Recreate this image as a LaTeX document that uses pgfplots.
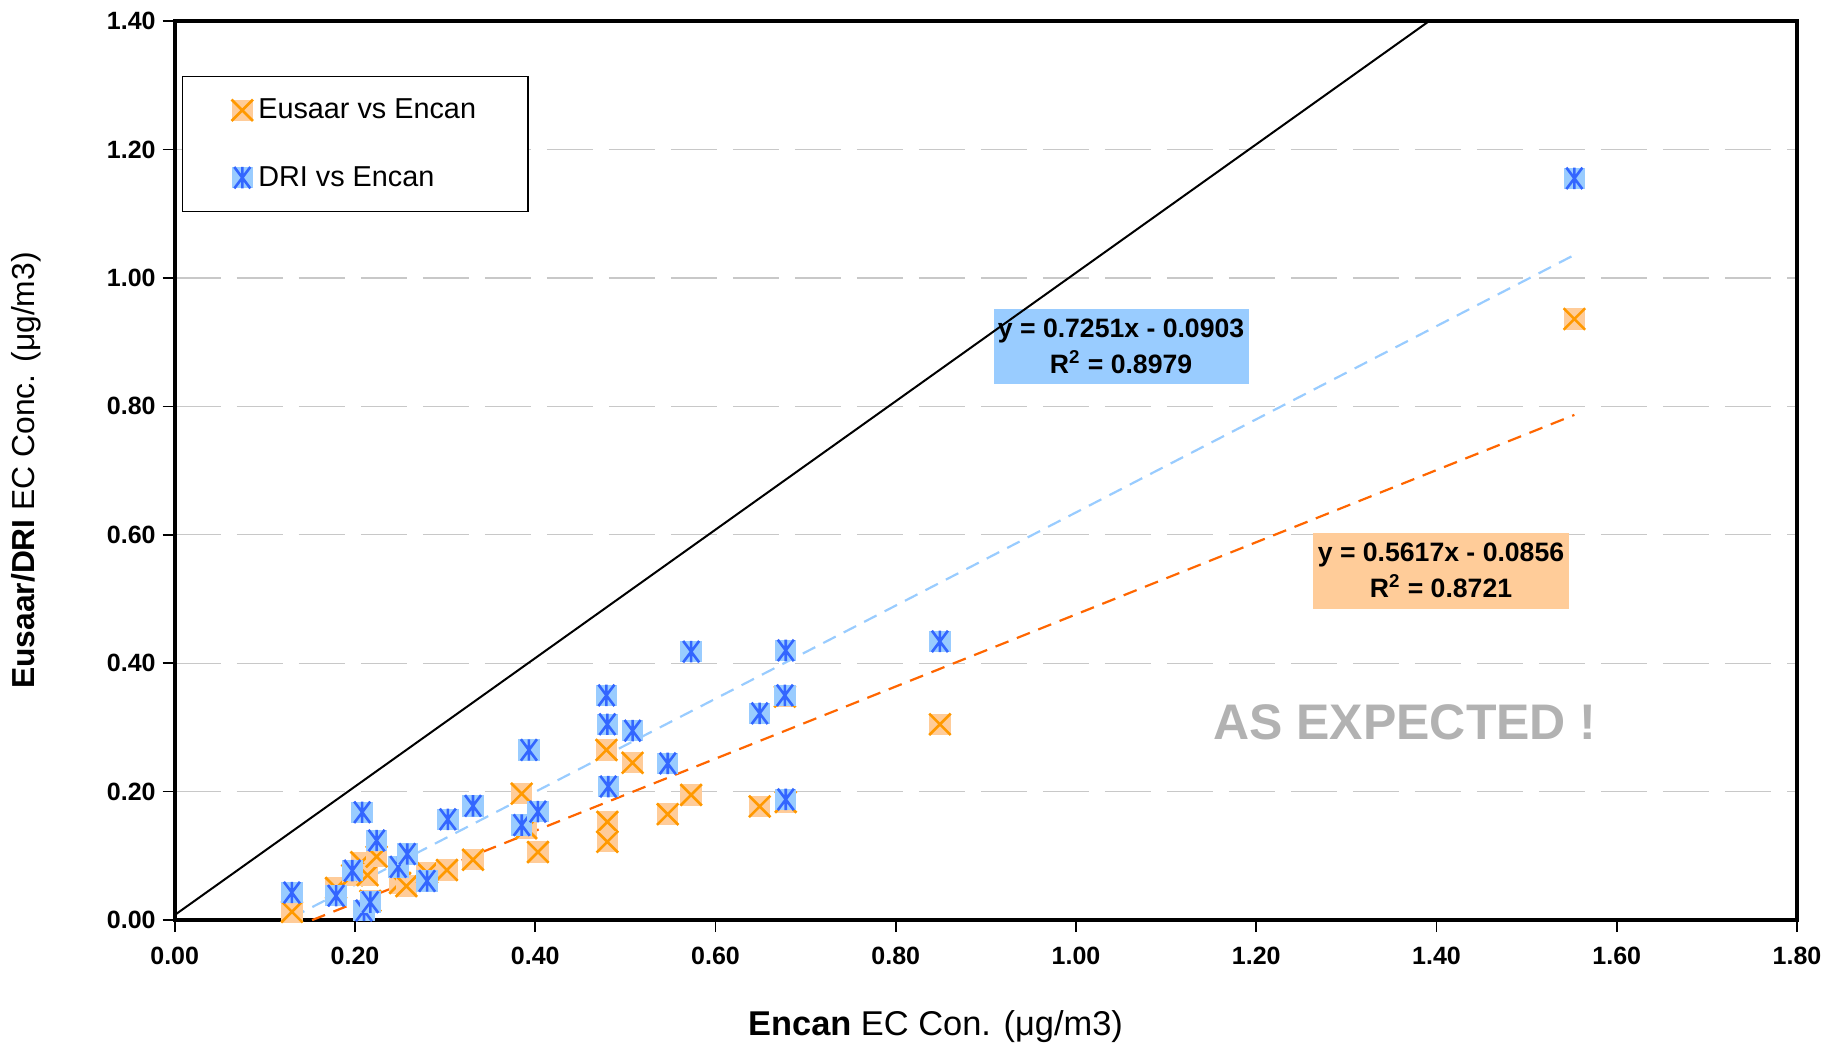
\documentclass[border=0pt]{standalone}
\usepackage{fontspec}
\setmainfont{Liberation Sans}
\usepackage{pgfplots}
\pgfplotsset{compat=1.18}
\definecolor{eufill}{HTML}{FFCC99}
\definecolor{eustroke}{HTML}{FF9900}
\definecolor{drifill}{HTML}{99CCFF}
\definecolor{dristroke}{HTML}{3366FF}
\definecolor{eutrend}{HTML}{FF6600}
\definecolor{dritrend}{HTML}{99CCFF}
\definecolor{gridgray}{HTML}{C8C8C8}
\definecolor{asgray}{HTML}{B2B2B2}
\pgfdeclareplotmark{eusaar}{%
  \pgfpathrectangle{\pgfqpoint{-\pgfplotmarksize}{-\pgfplotmarksize}}{\pgfqpoint{2\pgfplotmarksize}{2\pgfplotmarksize}}%
  \pgfsetfillcolor{eufill}\pgfusepath{fill}%
  \pgfsetstrokecolor{eustroke}\pgfsetlinewidth{1.3pt}%
  \pgfpathmoveto{\pgfqpoint{-\pgfplotmarksize}{-\pgfplotmarksize}}\pgfpathlineto{\pgfqpoint{\pgfplotmarksize}{\pgfplotmarksize}}%
  \pgfpathmoveto{\pgfqpoint{-\pgfplotmarksize}{\pgfplotmarksize}}\pgfpathlineto{\pgfqpoint{\pgfplotmarksize}{-\pgfplotmarksize}}%
  \pgfusepath{stroke}%
}
\pgfdeclareplotmark{dri}{%
  \pgfpathrectangle{\pgfqpoint{-\pgfplotmarksize}{-\pgfplotmarksize}}{\pgfqpoint{2\pgfplotmarksize}{2\pgfplotmarksize}}%
  \pgfsetfillcolor{drifill}\pgfusepath{fill}%
  \pgfsetstrokecolor{dristroke}\pgfsetlinewidth{1.3pt}%
  \pgfpathmoveto{\pgfqpoint{-0.75\pgfplotmarksize}{-\pgfplotmarksize}}\pgfpathlineto{\pgfqpoint{0.75\pgfplotmarksize}{\pgfplotmarksize}}%
  \pgfpathmoveto{\pgfqpoint{-0.75\pgfplotmarksize}{\pgfplotmarksize}}\pgfpathlineto{\pgfqpoint{0.75\pgfplotmarksize}{-\pgfplotmarksize}}%
  \pgfpathmoveto{\pgfqpoint{0pt}{-\pgfplotmarksize}}\pgfpathlineto{\pgfqpoint{0pt}{\pgfplotmarksize}}%
  \pgfusepath{stroke}%
}
\begin{document}
\begin{tikzpicture}
\path[use as bounding box] (-87.35pt,-61.5pt) rectangle (825.5pt,460pt);
\begin{axis}[
  at={(0,0)}, anchor=south west,
  scale only axis, width=811pt, height=449.5pt,
  xmin=0, xmax=1.8, ymin=0, ymax=1.4,
  xtick={0,0.2,0.4,0.6,0.8,1.0,1.2,1.4,1.6,1.8},
  ytick={0,0.2,0.4,0.6,0.8,1.0,1.2,1.4},
  axis line style={line width=2pt, black},
  tick align=outside, major tick length=6pt,
  tick style={black, line width=0.8pt},
  xtick pos=bottom, ytick pos=left,
  ymajorgrids,
  major grid style={gridgray, line width=0.7pt, dash pattern=on 23pt off 8pt},
  /pgf/number format/fixed,
  /pgf/number format/fixed zerofill,
  /pgf/number format/precision=2,
  /pgf/number format/assume math mode=true,
  tick label style={font=\fontsize{12.5}{14}\selectfont\bfseries},
  xticklabel style={yshift=-4pt},
  xlabel={\textbf{Encan} EC Con. (μg/m3)},
  ylabel={\textbf{Eusaar/DRI} EC Conc. (μg/m3)},
  xlabel style={font=\fontsize{17.2}{20}\selectfont, at={(axis description cs:0.469,-0.118)}, anchor=center},
  ylabel style={font=\fontsize{15.9}{19}\selectfont, at={(axis description cs:-0.0912,0.5)}, anchor=center},
  legend style={at={(axis description cs:0.0043,0.939)}, anchor=north west,
    draw=black, line width=0.6pt, fill=white,
    font=\fontsize{14.4}{16}\selectfont,
    inner xsep=24pt, inner ysep=9.2pt, row sep=18.3pt},
  legend cell align=left,
  legend image code/.code={\draw[#1] plot coordinates {(0pt,0pt)};},
  mark size=5.35pt,
]
\node[fill=drifill, inner sep=0pt, minimum width=127.5pt, minimum height=37.8pt, align=center,
  font=\fontsize{13.3}{18}\selectfont\bfseries] at (axis cs:1.050,0.893)
  {y = 0.7251x - 0.0903\\R\textsuperscript{2} = 0.8979};
\node[fill=eufill, inner sep=0pt, minimum width=127.5pt, minimum height=37.8pt, align=center,
  font=\fontsize{13.3}{18}\selectfont\bfseries] at (axis cs:1.405,0.544)
  {y = 0.5617x - 0.0856\\R\textsuperscript{2} = 0.8721};
\node[text=asgray, font=\fontsize{25}{30}\selectfont\bfseries] at (axis cs:1.365,0.308) {AS EXPECTED !};

\addplot[only marks, mark=eusaar] coordinates {
(0.13,0.013) (0.179,0.05) (0.197,0.07) (0.207,0.09) (0.214,0.07) (0.217,0.03)
(0.224,0.099) (0.25,0.058) (0.257,0.053) (0.28,0.074) (0.302,0.078) (0.331,0.094)
(0.385,0.197) (0.39,0.143) (0.403,0.106) (0.479,0.265) (0.48,0.153) (0.48,0.122)
(0.508,0.245) (0.547,0.165) (0.573,0.195) (0.649,0.177) (0.677,0.348) (0.678,0.184)
(0.849,0.305) (1.553,0.936)
};
\addlegendentry{Eusaar vs Encan}
\addplot[only marks, mark=dri] coordinates {
(0.13,0.043) (0.179,0.038) (0.197,0.077) (0.208,0.168) (0.21,0.015) (0.217,0.028)
(0.224,0.124) (0.248,0.083) (0.258,0.103) (0.28,0.061) (0.303,0.157) (0.331,0.178)
(0.385,0.148) (0.393,0.265) (0.403,0.169) (0.479,0.350) (0.48,0.305) (0.481,0.208)
(0.508,0.295) (0.547,0.244) (0.573,0.418) (0.649,0.322) (0.677,0.35) (0.678,0.42)
(0.678,0.188) (0.849,0.434) (1.553,1.155)
};
\addlegendentry{DRI vs Encan}
\addplot[forget plot, black, line width=1pt] coordinates {(0,0.008) (1.392,1.40)};
\addplot[forget plot, dritrend, line width=1.1pt, dash pattern=on 7pt off 4.5pt] coordinates {(0.13,0.0040) (1.553,1.0358)};
\addplot[forget plot, eutrend, line width=1.1pt, dash pattern=on 7pt off 4.5pt] coordinates {(0.1524,0) (1.553,0.7867)};
\end{axis}
\end{tikzpicture}
\end{document}
